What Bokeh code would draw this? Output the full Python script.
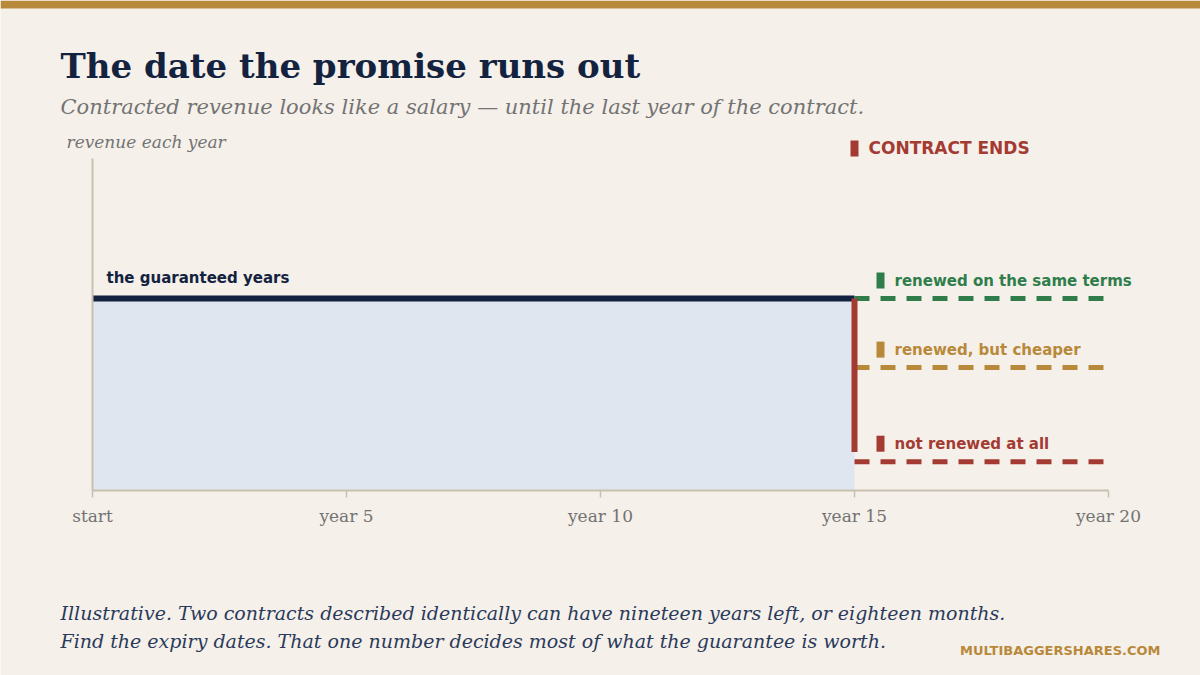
from bokeh.embed import file_html
from bokeh.models import BoxAnnotation, FixedTicker, Label, Range1d
from bokeh.plotting import figure
from bokeh.resources import INLINE

# chart values
guaranteed_years = [0, 15]
guaranteed_revenue = 100
contract_end = 15
horizon = 20
outcome_names = ["renewed on the same terms", "renewed, but cheaper", "not renewed at all"]
outcome_levels = [100, 64, 15]
tick_years = [0, 5, 10, 15, 20]
tick_labels = ["start", "year 5", "year 10", "year 15", "year 20"]

BG = "#F5F0EA"
NAVY = "#13233F"
RED = "#A33B32"
GREEN = "#2E7D4A"
GOLD = "#B8893A"
AXIS = "#C8C0B0"
GREY = "#737373"
outcome_colors = [GREEN, GOLD, RED]

SERIF = "DejaVu Serif"
SANS = "DejaVu Sans"

W, H = 1200, 675
# plot box on the canvas: x axis from 92 to 1108 px, baseline at 490 px
px_year = (1108 - 92) / horizon
px_unit = 1.92
y_top = 173

p = figure(
    width=W, height=H,
    x_range=Range1d(-92 / px_year, horizon + (W - 1108) / px_year),
    y_range=Range1d(-(H - 490) / px_unit, 490 / px_unit),
    min_border=0,
    background_fill_color=BG, border_fill_color=BG,
    outline_line_color=None, toolbar_location=None,
    output_backend="svg",
)
p.grid.visible = False

# x axis: years
xa = p.xaxis[0]
xa.fixed_location = 0
xa.bounds = (0, horizon)
xa.ticker = FixedTicker(ticks=tick_years, minor_ticks=[])
xa.major_label_overrides = dict(zip(tick_years, tick_labels))
xa.axis_line_color = AXIS
xa.axis_line_width = 2
xa.major_tick_line_color = AXIS
xa.major_tick_line_width = 1.5
xa.major_tick_in = 0
xa.major_tick_out = 7
xa.minor_tick_line_color = None
xa.major_label_standoff = 8
xa.major_label_text_font = SERIF
xa.major_label_text_font_size = "17px"
xa.major_label_text_color = GREY

# y axis: just the line
ya = p.yaxis[0]
ya.fixed_location = 0
ya.bounds = (0, y_top)
ya.ticker = FixedTicker(ticks=[])
ya.axis_line_color = AXIS
ya.axis_line_width = 2
ya.major_tick_line_color = None
ya.minor_tick_line_color = None
ya.major_label_text_font_size = "0px"

# guaranteed block
p.varea(x=guaranteed_years, y1=[0, 0], y2=[guaranteed_revenue] * 2, fill_color="#DFE6EF")
p.line(x=guaranteed_years, y=[guaranteed_revenue] * 2, line_color=NAVY, line_width=6)

# what happens after the contract ends
for level, color in zip(outcome_levels, outcome_colors):
    p.line(x=[contract_end, horizon], y=[level, level], line_color=color,
           line_width=5, line_dash="15 11")

# contract end marker
p.segment(x0=[contract_end], y0=[guaranteed_revenue], x1=[contract_end],
          y1=[min(outcome_levels) + 5], line_color=RED, line_width=6)
p.rect(x=contract_end, y=(490 - 148) / px_unit, width=8, height=16,
       width_units="screen", height_units="screen", fill_color=RED, line_color=None)
p.add_layout(Label(x=contract_end + 14 / px_year, y=(490 - 147) / px_unit, text="CONTRACT ENDS",
                   text_font=SANS, text_font_style="bold", text_font_size="17px",
                   text_color=RED, text_baseline="middle"))

# outcome labels with small colour blocks
for name, level, color in zip(outcome_names, outcome_levels, outcome_colors):
    ly = level + 18 / px_unit
    p.rect(x=contract_end + 26 / px_year, y=ly, width=8, height=16,
           width_units="screen", height_units="screen", fill_color=color, line_color=None)
    p.add_layout(Label(x=contract_end + 40 / px_year, y=ly, text=name,
                       text_font=SANS, text_font_style="bold", text_font_size="15px",
                       text_color=color, text_baseline="middle"))

p.add_layout(Label(x=14 / px_year, y=guaranteed_revenue + 21 / px_unit, text="the guaranteed years",
                   text_font=SANS, text_font_style="bold", text_font_size="15px",
                   text_color=NAVY, text_baseline="middle"))


# headline and notes, placed in canvas pixels
def note(cx, cy, text, size, color, font=SERIF, style="normal", align="left"):
    p.add_layout(Label(x=cx, y=H - cy, x_units="screen", y_units="screen", text=text,
                       text_font=font, text_font_style=style, text_font_size=size,
                       text_color=color, text_baseline="middle", text_align=align))


p.add_layout(BoxAnnotation(left=0, right=W, top=H, bottom=H - 8,
                           left_units="screen", right_units="screen",
                           top_units="screen", bottom_units="screen",
                           fill_color=GOLD, fill_alpha=1, line_color=None))

note(60, 65, "The date the promise runs out", "34px", NAVY, style="bold")
note(60, 106, "Contracted revenue looks like a salary \u2014 until the last year of the contract.",
     "21px", GREY, style="italic")
note(66, 141, "revenue each year", "17px", GREY, style="italic")
note(60, 612, "Illustrative. Two contracts described identically can have nineteen years left, or eighteen months.",
     "19px", "#2A3A5A", style="italic")
note(60, 640, "Find the expiry dates. That one number decides most of what the guarantee is worth.",
     "19px", "#2A3A5A", style="italic")
note(1160, 650, "MULTIBAGGERSHARES.COM", "13px", GOLD, font=SANS, style="bold", align="right")

open("out.html", "w").write(file_html(p, INLINE))
